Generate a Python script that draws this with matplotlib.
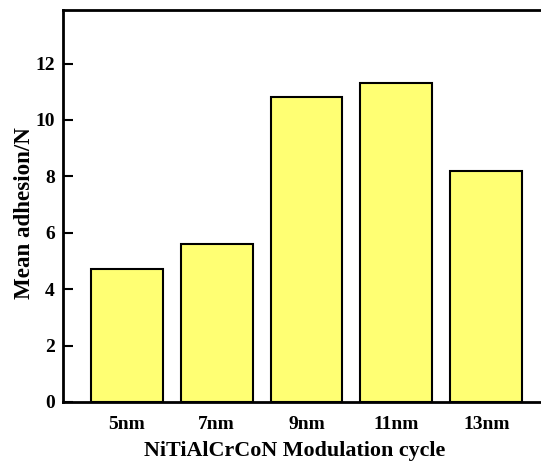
import numpy as np
import matplotlib.pyplot as plt

# data
cycles = ['5nm', '7nm', '9nm', '11nm', '13nm']
adhesion = [4.7, 5.6, 10.8, 11.3, 8.2]
yticks = [0, 2, 4, 6, 8, 10, 12]

plt.rcParams['font.family'] = ['Liberation Serif', 'DejaVu Serif']
plt.rcParams['font.weight'] = 'bold'

fig = plt.figure(figsize=(5.41, 4.62), dpi=100)
# axes run past the right edge of the image (right spine is cropped off)
ax = fig.add_axes([63/541, 60/462, 487/541, 392/462])

x = np.arange(1, len(cycles) + 1)
ax.bar(x, adhesion, width=0.8, color='#FFFF73', edgecolor='black', linewidth=1.5, zorder=2)

ax.set_xlim(0.29, 5.71)
ax.set_ylim(0, 13.9)
ax.set_xticks(x)
ax.set_xticklabels(cycles)
ax.set_yticks(yticks)

for s in ['left', 'bottom', 'top']:
    ax.spines[s].set_linewidth(2)
ax.spines['right'].set_visible(False)

ax.tick_params(axis='both', direction='in', width=1.5, length=7, labelsize=14)
ax.tick_params(axis='x', pad=10)
ax.tick_params(axis='y', pad=6)
for lab in ax.get_xticklabels() + ax.get_yticklabels():
    lab.set_fontweight('bold')

ax.set_xlabel('NiTiAlCrCoN Modulation cycle', fontsize=15.8, fontweight='bold')
ax.set_ylabel('Mean adhesion/N', fontsize=16.6, fontweight='bold')
ax.xaxis.set_label_coords(0.475, -0.100)
ax.yaxis.set_label_coords(-0.057, 0.483)

fig.savefig('out.png', dpi=100)
